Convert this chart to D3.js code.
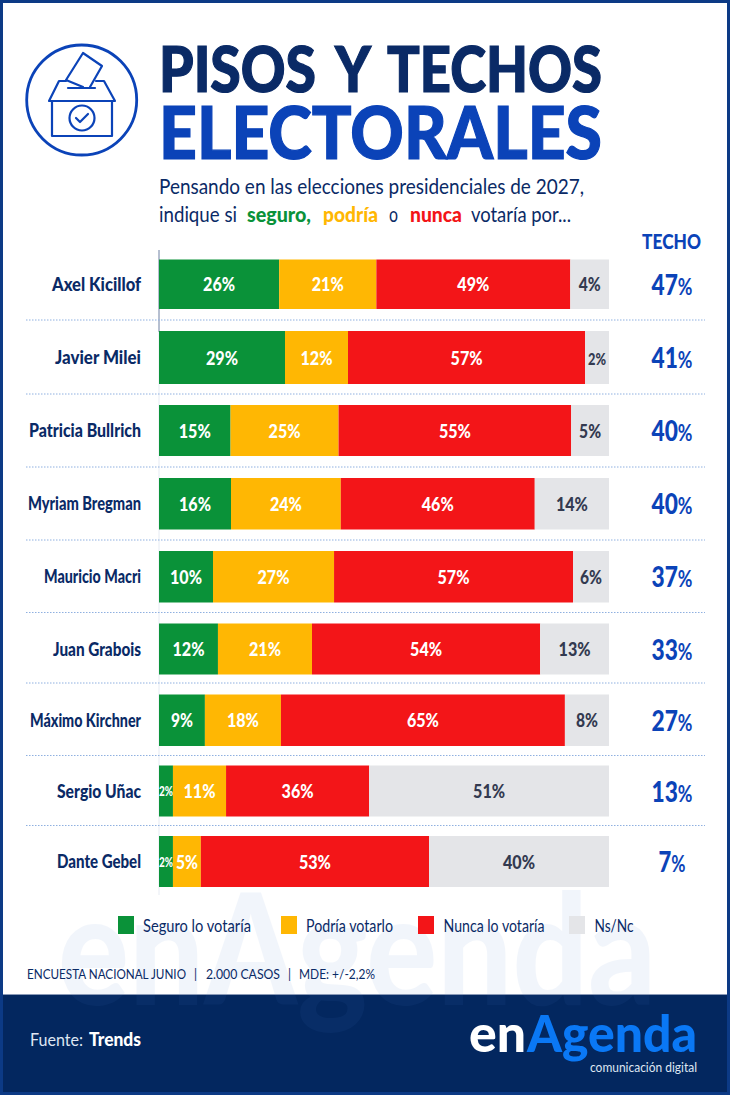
<!DOCTYPE html>
<html><head><meta charset="utf-8">
<script src="https://cdnjs.cloudflare.com/ajax/libs/d3/7.9.0/d3.min.js"></script>
<style>html,body{margin:0;padding:0;background:#fff}svg{display:block}text{font-family:Lato,sans-serif}</style>
</head><body><svg id="c" width="730" height="1095"></svg>
<script>
const candidates=["Axel Kicillof","Javier Milei","Patricia Bullrich","Myriam Bregman","Mauricio Macri","Juan Grabois","Máximo Kirchner","Sergio Uñac","Dante Gebel"];
// printed percentages
const seguro=[26,29,15,16,10,12,9,2,2];
const podria=[21,12,25,24,27,21,18,11,5];
const nunca=[49,57,55,46,57,54,65,36,53];
const nsnc=[4,2,5,14,6,13,8,51,40];
const techo=[47,41,40,40,37,33,27,13,7];
// drawn bar lengths (share of the full bar; they differ from the printed numbers)
const barSeguro=[26.7,28,15.9,16,12,13.1,10.2,3.1,3.1];
const barPodria=[21.6,14,24,24.4,26.9,20.9,16.9,11.8,6.2];
const barNunca=[43.1,52.7,51.7,43.1,53.1,50.7,63.1,31.8,50.7];
const barNsnc=[8.6,5.3,8.4,16.5,8,15.3,9.8,53.3,40];
const seriesNames=["Seguro lo votaría","Podría votarlo","Nunca lo votaría","Ns/Nc"];
const seriesColors=["#0a9239","#ffb703","#f31518","#e4e5e8"];
const labelColors=["#fff","#fff","#fff","#333a50"];
const NAVY="#0a2a66",BLUE="#0b43b8",FOOT="#03275f",FRAME="#0c3a85";

const svg=d3.select("#c");
const rowTops=[259.5,331,405,478,551,623.5,694.5,765.5,836];
const rowH=[49.5,53,51,51.5,51.5,51,51.5,51,51];
const nameW=[89,86,112,113,97,88,111,84,84];
const rules=[320,394,467,540,612.5,683,755.5,825.5];
const y=d3.scaleOrdinal(candidates,rowTops), h=d3.scaleOrdinal(candidates,rowH), nw=d3.scaleOrdinal(candidates,nameW);
const x=d3.scaleLinear().domain([0,100]).range([159,609]);

function T(g,s,px,py,size,fill,weight,anchor,w){
  const t=g.append("text").attr("x",px).attr("y",py).attr("font-size",size).attr("fill",fill)
    .attr("font-weight",weight||400).attr("text-anchor",anchor||"start").text(s);
  if(w){t.attr("textLength",w).attr("lengthAdjust","spacingAndGlyphs");}
  return t;
}

// footer + watermark
svg.append("rect").attr("y",995).attr("width",730).attr("height",100).attr("fill",FOOT);
T(svg,"enAgenda",58,1005,155,"#4a7fd0",900,"start",598).attr("opacity",0.07);

// frame
svg.append("rect").attr("x",1.5).attr("y",1.5).attr("width",727).attr("height",1092).attr("fill","none").attr("stroke",FRAME).attr("stroke-width",3);
svg.append("line").attr("x1",3).attr("x2",727).attr("y1",994.5).attr("y2",994.5).attr("stroke","#8a9ab8").attr("stroke-width",1);

// icon
const ic=svg.append("g").attr("fill","none").attr("stroke",BLUE).attr("stroke-width",2.2).attr("stroke-linejoin","round").attr("stroke-linecap","round");
ic.append("circle").attr("cx",81.7).attr("cy",100).attr("r",55).attr("stroke-width",2.8);
ic.append("path").attr("d","M83 87L66 80L83 53L102 66L90 87");
ic.append("path").attr("d","M66 81H59L49 101H115L104 81H96");
ic.append("path").attr("d","M68 88H95");
ic.append("path").attr("d","M52 101V136H112V101");
ic.append("circle").attr("cx",82).attr("cy",118).attr("r",12.5);
ic.append("path").attr("d","M76 118L80 122L88 114");

// title
[["PISOS",159,157],["Y",335,36],["TECHOS",387,215]].forEach(d=>
  T(svg,d[0],d[1],91.5,62.5,NAVY,900,"start",d[2]).attr("stroke",NAVY).attr("stroke-width",1.2));
T(svg,"ELECTORALES",159,158.5,72,BLUE,900,"start",443).attr("stroke",BLUE).attr("stroke-width",1.2);

// subtitle
T(svg,"Pensando en las elecciones presidenciales de 2027,",159,194,20.5,NAVY,400,"start",425);
[["indique si",159,400,NAVY,78],["seguro,",247,900,seriesColors[0],64],["podría",323,900,seriesColors[1],55],["o",389,400,NAVY,9],["nunca",410,900,seriesColors[2],52],["votaría por...",471,400,NAVY,100]]
  .forEach(d=>T(svg,d[0],d[1],221.5,20.5,d[3],d[2],"start",d[4]));
T(svg,"TECHO",642,248.5,21,BLUE,900,"start",59);

// axis + rules
svg.append("line").attr("x1",159).attr("x2",159).attr("y1",250).attr("y2",895).attr("stroke","#e6ebf3");
svg.append("line").attr("x1",159).attr("x2",159).attr("y1",250).attr("y2",332).attr("stroke","#7b8aa8");
svg.selectAll(".rule").data(rules).join("line").attr("class","rule")
  .attr("x1",26).attr("x2",705).attr("y1",d=>d).attr("y2",d=>d)
  .attr("stroke","#8fb0e0").attr("stroke-width",1).attr("stroke-dasharray","1.5 1.5");

// bars
const matrix=candidates.map((c,i)=>({name:c,i,seguro:barSeguro[i],podria:barPodria[i],nunca:barNunca[i],nsnc:barNsnc[i],techo:techo[i]}));
const keys=["seguro","podria","nunca","nsnc"];
const printed=[seguro,podria,nunca,nsnc];
d3.stack().keys(keys)(matrix).forEach((s,k)=>{
  const g=svg.append("g");
  const v=d=>printed[k][d.data.i];
  g.selectAll("rect").data(s).join("rect")
    .attr("x",d=>x(d[0])).attr("width",d=>x(d[1])-x(d[0]))
    .attr("y",d=>y(d.data.name)).attr("height",d=>h(d.data.name)).attr("fill",seriesColors[k]);
  g.selectAll("text").data(s).join("text")
    .attr("x",d=>(x(d[0])+x(d[1]))/2)
    .attr("y",d=>y(d.data.name)+h(d.data.name)/2+(v(d)==2&&k==0?5:7))
    .attr("text-anchor","middle").attr("fill",labelColors[k]).attr("font-weight",900)
    .attr("font-size",d=>v(d)==2?(k==0?14:16):19.5)
    .attr("textLength",d=>v(d)==2?(k==0?14:18):(v(d)<10?22:32)).attr("lengthAdjust","spacingAndGlyphs")
    .text(d=>v(d)+"%");
});

// names
svg.selectAll(".nm").data(candidates).join("text").attr("class","nm")
  .attr("x",141).attr("y",d=>y(d)+h(d)/2+6.5).attr("text-anchor","end")
  .attr("font-size",19).attr("font-weight",900).attr("fill",NAVY)
  .attr("textLength",d=>nw(d)).attr("lengthAdjust","spacingAndGlyphs").text(d=>d);

// techo
const tg=svg.selectAll(".te").data(matrix).join("text").attr("class","te")
  .attr("x",672).attr("y",d=>y(d.name)+h(d.name)/2+10.5).attr("text-anchor","middle").attr("fill",BLUE).attr("font-weight",900).attr("font-size",28)
  .attr("textLength",d=>d.techo>=10?41:27).attr("lengthAdjust","spacingAndGlyphs");
tg.append("tspan").text(d=>d.techo);
tg.append("tspan").attr("font-size",22).attr("font-weight",700).text("%");

// legend
const lx=[118,281,418,569], ltx=[143,306,443.5,594.5], lw=[108,87,101,39];
seriesNames.forEach((n,i)=>{
  svg.append("rect").attr("x",lx[i]).attr("y",916).attr("width",16).attr("height",18).attr("fill",seriesColors[i]);
  T(svg,n,ltx[i],932,16.5,NAVY,400,"start",lw[i]);
});

// note
[["ENCUESTA NACIONAL JUNIO",27,159],["|",194,3],["2.000 CASOS",206,74],["|",288,3],["MDE: +/-2,2%",299,76]]
  .forEach(d=>T(svg,d[0],d[1],979,13,NAVY,400,"start",d[2]));

// footer text
T(svg,"Fuente:",30,1046,18,"#dfe6f2",400,"start",53);
T(svg,"Trends",89,1046,18,"#fff",900,"start",52);
T(svg,"en",469,1052,52,"#fff",900,"start",57);
T(svg,"Agenda",527,1052,52,"#0a78f5",900,"start",170);
T(svg,"comunicación digital",590,1072,14,"#dfe6f2",400,"start",107);
</script></body></html>
